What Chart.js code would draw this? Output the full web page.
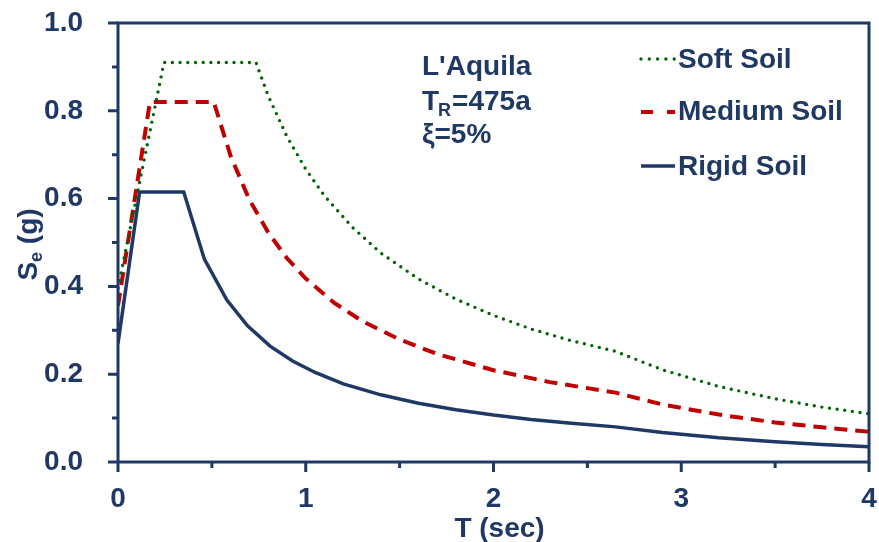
<!DOCTYPE html>
<html><head><meta charset="utf-8">
<script src="https://cdn.jsdelivr.net/npm/chart.js@4/dist/chart.umd.min.js"></script>
<style>html,body{margin:0;padding:0;background:#fff}</style>
</head><body>
<canvas id="c" width="879" height="542"></canvas>
<script>
// ---- data ----
const seriesNames = ['Soft Soil', 'Medium Soil', 'Rigid Soil'];

const softT  = [0, 0.245, 0.735, 0.8, 0.9, 1.0, 1.1, 1.25, 1.4, 1.6, 1.8, 2.0, 2.2, 2.4, 2.65, 2.9, 3.2, 3.5, 3.75, 4.0];
const softSe = [0.396, 0.91, 0.91, 0.834, 0.741, 0.667, 0.606, 0.534, 0.476, 0.417, 0.371, 0.334, 0.303, 0.278, 0.252, 0.210, 0.172, 0.144, 0.125, 0.110];

const mediumT  = [0, 0.17, 0.51, 0.6, 0.7, 0.8, 0.9, 1.0, 1.15, 1.3, 1.5, 1.7, 2.0, 2.3, 2.65, 2.9, 3.2, 3.5, 3.75, 4.0];
const mediumSe = [0.356, 0.82, 0.82, 0.697, 0.597, 0.523, 0.464, 0.418, 0.363, 0.321, 0.279, 0.246, 0.209, 0.182, 0.158, 0.131, 0.108, 0.090, 0.079, 0.069];

const rigidT  = [0, 0.115, 0.35, 0.46, 0.58, 0.69, 0.81, 0.93, 1.05, 1.2, 1.4, 1.6, 1.8, 2.0, 2.2, 2.4, 2.65, 2.9, 3.2, 3.5, 3.75, 4.0];
const rigidSe = [0.27, 0.615, 0.615, 0.462, 0.369, 0.31, 0.264, 0.23, 0.204, 0.178, 0.153, 0.134, 0.119, 0.107, 0.097, 0.089, 0.080, 0.067, 0.055, 0.046, 0.040, 0.035];

const xTickValues  = [0, 1, 2, 3, 4];
const xMinorValues = [0.5, 1.5, 2.5, 3.5];
const yTickValues  = [0, 0.2, 0.4, 0.6, 0.8, 1.0];
const yMinorValues = [0.1, 0.3, 0.5, 0.7, 0.9];

const xTitle = 'T (sec)';
const yTitleMain = 'S', yTitleSub = 'e', yTitleRest = ' (g)';
const noteSite = "L'Aquila";
const noteReturn = ['T', 'R', '=475a'];
const noteDamping = 'ξ=5%';

// ---- styles ----
const NAVY = '#1f3864';
const FONT = '"Liberation Sans", Arial, sans-serif';
const styles = [
  { color: '#006400', width: 3.4, dash: [0, 7.7], cap: 'round', legendDash: [0, 8.3] },
  { color: '#c00000', width: 4, dash: [13, 8], cap: 'butt', legendDash: [12, 14] },
  { color: NAVY, width: 3.5, dash: [], cap: 'butt', legendDash: [] }
];

const toPts = (xs, ys) => xs.map((x, i) => ({ x: x, y: ys[i] }));
const seriesData = [toPts(softT, softSe), toPts(mediumT, mediumSe), toPts(rigidT, rigidSe)];

const datasets = seriesNames.map((name, i) => ({
  label: name,
  data: seriesData[i],
  borderColor: styles[i].color,
  borderWidth: styles[i].width,
  borderDash: styles[i].dash,
  borderCapStyle: styles[i].cap,
  pointRadius: 0,
  tension: 0,
  fill: false
}));

const framePlugin = {
  id: 'frame',
  afterDatasetsDraw(chart) {
    const { ctx, chartArea: a, scales } = chart;
    ctx.save();
    ctx.strokeStyle = NAVY;
    ctx.lineWidth = 3;
    ctx.strokeRect(a.left, a.top, a.right - a.left, a.bottom - a.top);
    // ticks
    ctx.beginPath();
    yTickValues.forEach(v => { const y = scales.y.getPixelForValue(v); ctx.moveTo(a.left - 10, y); ctx.lineTo(a.left, y); });
    yMinorValues.forEach(v => { const y = scales.y.getPixelForValue(v); ctx.moveTo(a.left - 6, y); ctx.lineTo(a.left, y); });
    xTickValues.forEach(v => { const x = scales.x.getPixelForValue(v); ctx.moveTo(x, a.bottom); ctx.lineTo(x, a.bottom + 10); });
    xMinorValues.forEach(v => { const x = scales.x.getPixelForValue(v); ctx.moveTo(x, a.bottom); ctx.lineTo(x, a.bottom + 6); });
    ctx.stroke();

    ctx.fillStyle = NAVY;
    const big = 'bold 28px ' + FONT, small = 'bold 18px ' + FONT;
    ctx.textBaseline = 'alphabetic';

    // x title
    ctx.font = big;
    ctx.textAlign = 'center';
    ctx.fillText(xTitle, (a.left + a.right) / 2 + 6, 537);
    ctx.textAlign = 'left';

    // y title with subscript
    ctx.font = big; const w1 = ctx.measureText(yTitleMain).width, w3 = ctx.measureText(yTitleRest).width;
    ctx.font = small; const w2 = ctx.measureText(yTitleSub).width;
    const total = w1 + w2 + w3;
    const cy = (a.top + a.bottom) / 2 + 2;
    ctx.translate(37, cy);
    ctx.rotate(-Math.PI / 2);
    let x = -total / 2;
    ctx.font = big; ctx.fillText(yTitleMain, x, 0); x += w1;
    ctx.font = small; ctx.fillText(yTitleSub, x, 5); x += w2;
    ctx.font = big; ctx.fillText(yTitleRest, x, 0);
    ctx.setTransform(1, 0, 0, 1, 0, 0);

    // annotation
    ctx.font = big;
    ctx.fillText(noteSite, 422, 75);
    let nx = 422;
    ctx.fillText(noteReturn[0], nx, 110); nx += ctx.measureText(noteReturn[0]).width - 1;
    ctx.font = small;
    ctx.fillText(noteReturn[1], nx, 116); nx += ctx.measureText(noteReturn[1]).width + 1;
    ctx.font = big;
    ctx.fillText(noteReturn[2], nx, 110);
    ctx.fillText(noteDamping, 422, 143);

    // legend
    const lineY = [59, 112, 166], textY = [68, 120, 175];
    chart.data.datasets.forEach((ds, i) => {
      ctx.save();
      ctx.strokeStyle = ds.borderColor;
      ctx.lineWidth = ds.borderWidth;
      ctx.lineCap = styles[i].cap;
      ctx.setLineDash(styles[i].legendDash);
      ctx.beginPath();
      ctx.moveTo(641, lineY[i]);
      ctx.lineTo(675, lineY[i]);
      ctx.stroke();
      ctx.restore();
      ctx.font = big;
      ctx.fillStyle = NAVY;
      ctx.fillText(ds.label, 678, textY[i]);
    });
    ctx.restore();
  }
};

const zeroPad = s => { s.paddingTop = 0; s.paddingBottom = 0; s.paddingLeft = 0; s.paddingRight = 0; };

new Chart(document.getElementById('c'), {
  type: 'line',
  data: { datasets: datasets },
  options: {
    responsive: false,
    animation: false,
    devicePixelRatio: 1,
    layout: { padding: { top: 23, right: 10, left: 0, bottom: 0 } },
    plugins: { legend: { display: false }, tooltip: { enabled: false } },
    scales: {
      x: {
        type: 'linear', min: 0, max: 4,
        afterBuildTicks: s => { s.ticks = xTickValues.map(v => ({ value: v })); },
        afterFit: s => { s.height = 80; zeroPad(s); },
        grid: { display: false },
        border: { display: false },
        ticks: { color: NAVY, font: { family: FONT, size: 28, weight: 'bold' }, padding: 12, maxRotation: 0,
                 callback: v => String(v) },
        title: { display: false, text: xTitle }
      },
      y: {
        type: 'linear', min: 0, max: 1,
        afterBuildTicks: s => { s.ticks = yTickValues.map(v => ({ value: v })); },
        afterFit: s => { s.width = 118; zeroPad(s); },
        grid: { display: false },
        border: { display: false },
        ticks: { color: NAVY, font: { family: FONT, size: 28, weight: 'bold' }, padding: 27,
                 callback: v => Number(v).toFixed(1) }
      }
    }
  },
  plugins: [framePlugin]
});
</script>
</body></html>
